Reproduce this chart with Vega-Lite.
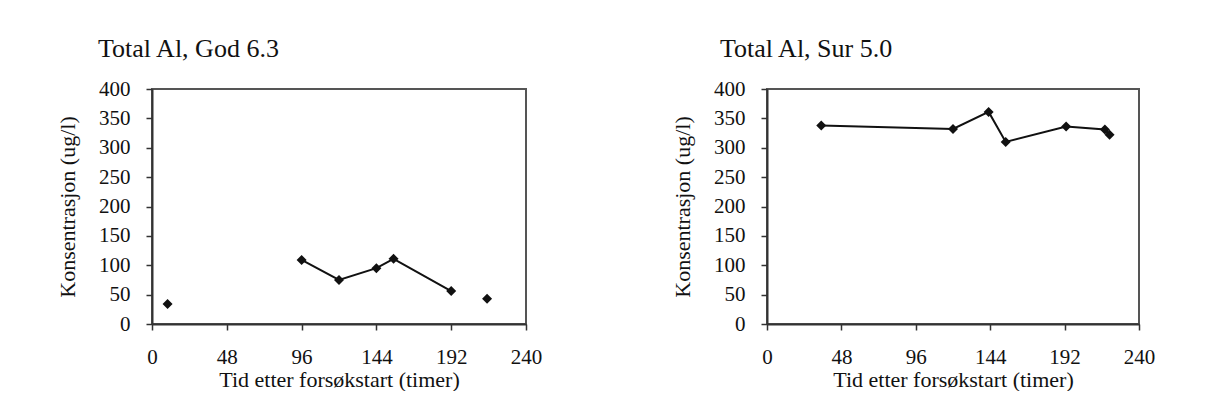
{
  "$schema": "https://vega.github.io/schema/vega-lite/v6.json",
  "background": "white",
  "padding": {"left": 55, "top": 35, "right": 5, "bottom": 0},
  "datasets": {
    "al": [
      {"panel": "God", "t": 10, "conc": 34, "linked": false},
      {"panel": "God", "t": 96, "conc": 109, "linked": true},
      {"panel": "God", "t": 120, "conc": 75, "linked": true},
      {"panel": "God", "t": 144, "conc": 95, "linked": true},
      {"panel": "God", "t": 155, "conc": 111, "linked": true},
      {"panel": "God", "t": 192, "conc": 56, "linked": true},
      {"panel": "God", "t": 215, "conc": 43, "linked": false},
      {"panel": "Sur", "t": 35, "conc": 338, "linked": true},
      {"panel": "Sur", "t": 120, "conc": 332, "linked": true},
      {"panel": "Sur", "t": 143, "conc": 361, "linked": true},
      {"panel": "Sur", "t": 154, "conc": 310, "linked": true},
      {"panel": "Sur", "t": 193, "conc": 336, "linked": true},
      {"panel": "Sur", "t": 218, "conc": 331, "linked": true},
      {"panel": "Sur", "t": 221, "conc": 322, "linked": true}
    ]
  },
  "config": {
    "font": "Liberation Serif",
    "view": {"stroke": "#555555", "strokeWidth": 2},
    "axis": {
      "labelFont": "Liberation Serif",
      "titleFont": "Liberation Serif",
      "labelFontSize": 21,
      "titleFontSize": 22,
      "titleFontWeight": "normal",
      "labelColor": "#111111",
      "titleColor": "#111111",
      "domainColor": "#333333",
      "domainWidth": 2,
      "tickColor": "#333333",
      "tickWidth": 1.5,
      "tickSize": 6,
      "grid": false
    },
    "title": {
      "font": "Liberation Serif",
      "fontSize": 26,
      "fontWeight": "normal",
      "color": "#111111",
      "anchor": "start",
      "frame": "group",
      "baseline": "alphabetic",
      "offset": 16
    }
  },
  "spacing": 127,
  "hconcat": [
    {
      "width": 374,
      "height": 235,
      "title": {"text": "Total Al, God 6.3", "dx": -54},
      "transform": [{"filter": "datum.panel === 'God'"}],
      "data": {"name": "al"},
      "encoding": {
        "x": {
          "field": "t", "type": "quantitative",
          "scale": {"domain": [0, 240], "nice": false},
          "axis": {"values": [0, 48, 96, 144, 192, 240], "title": "Tid etter forsøkstart (timer)", "labelPadding": 16, "titlePadding": 2, "labelFlush": false}
        },
        "y": {
          "field": "conc", "type": "quantitative",
          "scale": {"domain": [0, 400], "nice": false},
          "axis": {"values": [0, 50, 100, 150, 200, 250, 300, 350, 400], "title": "Konsentrasjon (ug/l)", "labelPadding": 16, "titlePadding": 19}
        }
      },
      "layer": [
        {
          "transform": [{"filter": "datum.linked"}],
          "mark": {"type": "line", "color": "#111111", "strokeWidth": 2}
        },
        {
          "mark": {"type": "point", "shape": "diamond", "filled": true, "color": "#111111", "opacity": 1, "size": 100}
        }
      ]
    },
    {
      "width": 372,
      "height": 235,
      "title": {"text": "Total Al, Sur 5.0", "dx": -47},
      "transform": [{"filter": "datum.panel === 'Sur'"}],
      "data": {"name": "al"},
      "encoding": {
        "x": {
          "field": "t", "type": "quantitative",
          "scale": {"domain": [0, 240], "nice": false},
          "axis": {"values": [0, 48, 96, 144, 192, 240], "title": "Tid etter forsøkstart (timer)", "labelPadding": 16, "titlePadding": 2, "labelFlush": false}
        },
        "y": {
          "field": "conc", "type": "quantitative",
          "scale": {"domain": [0, 400], "nice": false},
          "axis": {"values": [0, 50, 100, 150, 200, 250, 300, 350, 400], "title": "Konsentrasjon (ug/l)", "labelPadding": 16, "titlePadding": 19}
        }
      },
      "layer": [
        {
          "transform": [{"filter": "datum.linked"}],
          "mark": {"type": "line", "color": "#111111", "strokeWidth": 2}
        },
        {
          "mark": {"type": "point", "shape": "diamond", "filled": true, "color": "#111111", "opacity": 1, "size": 100}
        }
      ]
    }
  ]
}
